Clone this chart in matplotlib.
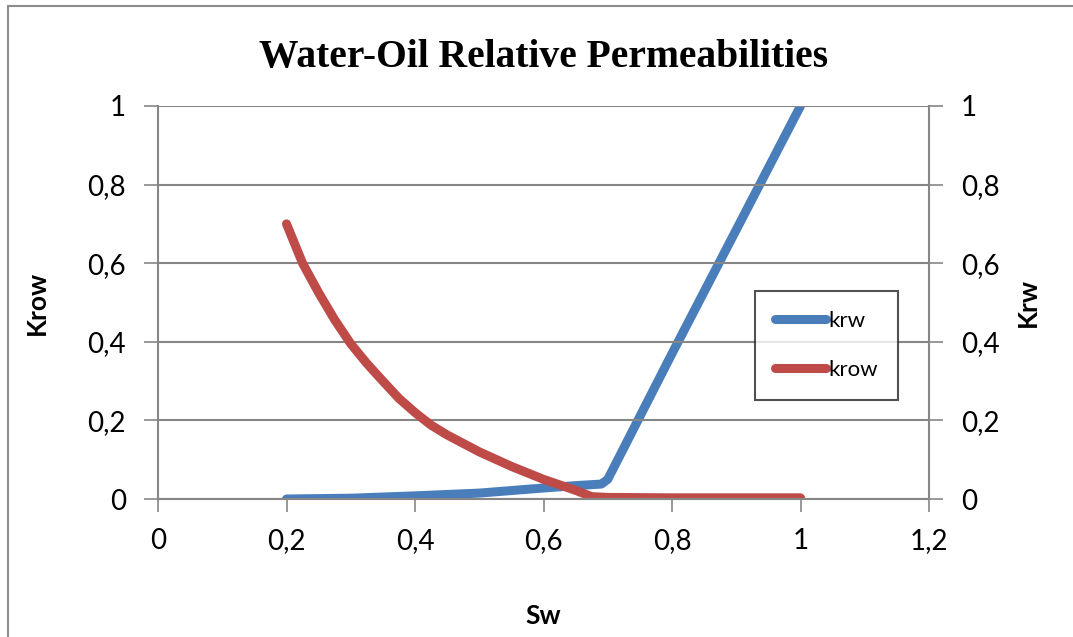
import matplotlib
matplotlib.use("Agg")
import matplotlib.pyplot as plt
from matplotlib.patches import Rectangle

# water saturation and relative permeabilities
sw_o = [0.2, 0.225, 0.25, 0.275, 0.3, 0.325, 0.35, 0.375, 0.4, 0.425, 0.45, 0.5, 0.55, 0.6, 0.65, 0.675,
        0.7, 0.8, 0.9, 1.0]
krow = [0.70, 0.60, 0.525, 0.456, 0.395, 0.345, 0.30, 0.256, 0.22, 0.188, 0.163, 0.12, 0.083, 0.05, 0.022, 0.006,
        0.004, 0.003, 0.003, 0.003]
sw_w = [0.2, 0.3, 0.4, 0.5, 0.6, 0.65, 0.69, 0.7, 0.8, 0.9, 1.0]
krw = [0.0, 0.002, 0.008, 0.015, 0.028, 0.034, 0.038, 0.05, 0.37, 0.685, 1.0]

x_ticks = [0, 0.2, 0.4, 0.6, 0.8, 1.0, 1.2]
y_ticks = [0, 0.2, 0.4, 0.6, 0.8, 1.0]

blue = "#4A7EBB"
red = "#BE4B48"
grey = "#868686"


def comma(v):
    s = "%g" % v
    return s.replace(".", ",")


plt.rcParams["font.family"] = ["Lato", "DejaVu Sans"]

fig = plt.figure(figsize=(10.73, 6.37), dpi=100)
ax = fig.add_axes([158 / 1073, 1 - 499 / 637, (929 - 158) / 1073, (499 - 106) / 637])
ax2 = ax.twinx()

# chart border (cut off on the right and bottom like the reference)
fig.patches.append(Rectangle((8 / 1073, -0.1), 1.2, 1 - 6 / 637 + 0.1, transform=fig.transFigure,
                             fill=False, edgecolor="#8c8c8c", linewidth=1.5))

l1, = ax2.plot(sw_w, krw, color=blue, linewidth=6.5, solid_capstyle="round", solid_joinstyle="round", label="krw")
l2, = ax.plot(sw_o, krow, color=red, linewidth=6.5, solid_capstyle="round", solid_joinstyle="round", label="krow")

for a in (ax, ax2):
    a.set_xlim(0, 1.2)
    a.set_ylim(0, 1)
    a.set_yticks(y_ticks)
    a.set_yticklabels([comma(v) for v in y_ticks])
    for side in a.spines:
        a.spines[side].set_visible(False)
    a.tick_params(axis="y", length=10, width=1.2, color=grey, labelsize=20, pad=13)

ax.set_zorder(ax2.get_zorder() + 1)
ax.patch.set_visible(False)

ax.set_xticks(x_ticks)
ax.set_xticklabels([comma(v) for v in x_ticks])
ax.tick_params(axis="x", length=9, width=1.2, color=grey, labelsize=20, pad=12)
ax.grid(axis="y", color=grey, linewidth=1.5)
ax.spines["left"].set_visible(True)
ax.spines["bottom"].set_visible(True)
ax2.spines["right"].set_visible(True)
for s in (ax.spines["left"], ax.spines["bottom"], ax2.spines["right"]):
    s.set_color(grey)
    s.set_linewidth(1.5)

ax.set_title("Water-Oil Relative Permeabilities", family="Liberation Serif", fontweight="bold",
             fontsize=28.5, pad=28)
ax.set_ylabel("Krow", fontweight="bold", fontsize=19, labelpad=28)
ax2.set_ylabel("Krw", fontweight="bold", fontsize=19, labelpad=12)
ax.set_xlabel("Sw", fontweight="bold", fontsize=19, labelpad=36)

leg = ax.legend([l1, l2], ["krw", "krow"], loc="upper left", bbox_to_anchor=(755 / 1073, 1 - 291 / 637),
                bbox_transform=fig.transFigure, fontsize=16, frameon=True, fancybox=False,
                handlelength=2.3, handletextpad=0.1, labelspacing=1.3, borderpad=0.9, borderaxespad=0)
leg.get_frame().set_edgecolor("#262626")
leg.get_frame().set_linewidth(1.5)

fig.savefig("out.png", dpi=100)
